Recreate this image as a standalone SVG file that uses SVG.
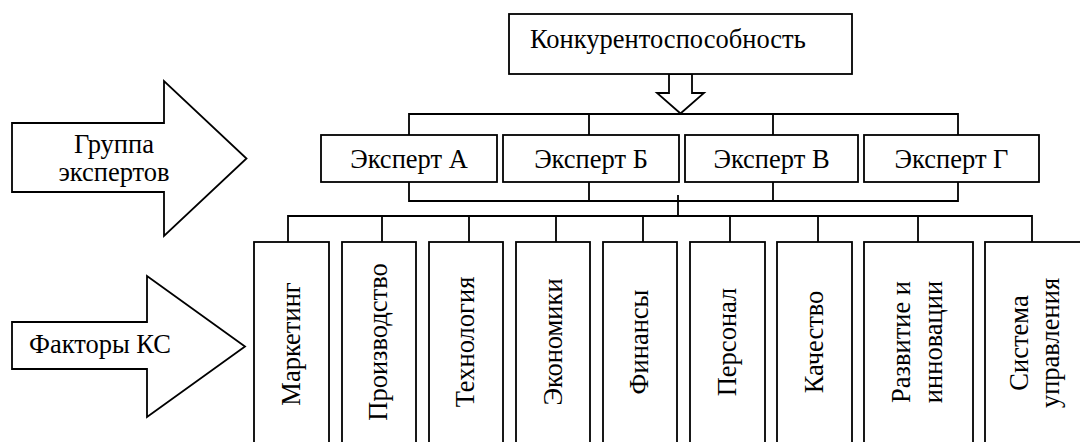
<svg xmlns="http://www.w3.org/2000/svg" width="1080" height="442" viewBox="0 0 1080 442">
<style>
.bx{fill:#fff;stroke:#000;stroke-width:1.8}
.ln{fill:none;stroke:#000;stroke-width:1.8}
.t{font-family:'Liberation Serif','DejaVu Serif',serif;font-size:26.5px;fill:#000}
.m{text-anchor:middle}
</style>
<rect width="1080" height="442" fill="#fff"/>
<g id="connectors">
<path class="ln" d="M409,135 V114 H958 V135 M589,114 V135 M773,114 V135"/>
<path class="ln" d="M409,182 V201 H958 V182 M589,182 V201 M773,182 V201"/>
<path class="ln" d="M678,195 V216 M288,242 V216 H1032 V242 M382,216 V242 M469,216 V242 M556,216 V242 M643,216 V242 M730,216 V242 M818,216 V242 M918,216 V242"/>
<path class="bx" d="M669,74 V93 H657 L680.5,113.5 L704,93 H692 V74 Z"/>
</g>
<g id="top">
<rect class="bx" x="509" y="14" width="343" height="60"/>
<text class="t" x="530" y="48">Конкурентоспособность</text>
</g>
<g id="arrow-experts">
<path class="bx" d="M12,123 H164 V81 L246.5,158.5 L164,236 V192 H12 Z"/>
<text class="t m" x="114" y="153">Группа</text>
<text class="t m" x="114" y="181">экспертов</text>
</g>
<g id="arrow-factors">
<path class="bx" d="M12,322 H147 V276 L245,346.5 L147,417 V369 H12 Z"/>
<text class="t m" x="100" y="353">Факторы КС</text>
</g>
<g id="expert-a"><rect class="bx" x="321" y="135" width="176" height="47"/><text class="t m" x="409" y="167.5">Эксперт А</text></g>
<g id="expert-b"><rect class="bx" x="503" y="135" width="176" height="47"/><text class="t m" x="591" y="167.5">Эксперт Б</text></g>
<g id="expert-v"><rect class="bx" x="685" y="135" width="173" height="47"/><text class="t m" x="771.5" y="167.5">Эксперт В</text></g>
<g id="expert-g"><rect class="bx" x="864" y="135" width="175" height="47"/><text class="t m" x="951.5" y="167.5">Эксперт Г</text></g>
<g id="f1"><rect class="bx" x="254" y="242" width="75" height="210"/><text class="t m" transform="translate(300,344) rotate(-90)">Маркетинг</text></g>
<g id="f2"><rect class="bx" x="342" y="242" width="74" height="210"/><text class="t m" transform="translate(387,342) rotate(-90)">Производство</text></g>
<g id="f3"><rect class="bx" x="429" y="242" width="74" height="210"/><text class="t m" transform="translate(474,342) rotate(-90)">Технология</text></g>
<g id="f4"><rect class="bx" x="516" y="242" width="74" height="210"/><text class="t m" transform="translate(562,342) rotate(-90)">Экономики</text></g>
<g id="f5"><rect class="bx" x="603" y="242" width="74" height="210"/><text class="t m" transform="translate(648,342) rotate(-90)">Финансы</text></g>
<g id="f6"><rect class="bx" x="690" y="242" width="75" height="210"/><text class="t m" transform="translate(736,342) rotate(-90)">Персонал</text></g>
<g id="f7"><rect class="bx" x="777" y="242" width="75" height="210"/><text class="t m" transform="translate(823,342) rotate(-90)">Качество</text></g>
<g id="f8"><rect class="bx" x="864" y="242" width="109" height="210"/><text class="t m" transform="translate(910,342) rotate(-90)">Развитие и</text><text class="t m" transform="translate(942,342) rotate(-90)">инновации</text></g>
<g id="f9"><rect class="bx" x="985" y="242" width="110" height="210"/><text class="t m" transform="translate(1028,343) rotate(-90)">Система</text><text class="t m" transform="translate(1059,343) rotate(-90)">управления</text></g>
</svg>
